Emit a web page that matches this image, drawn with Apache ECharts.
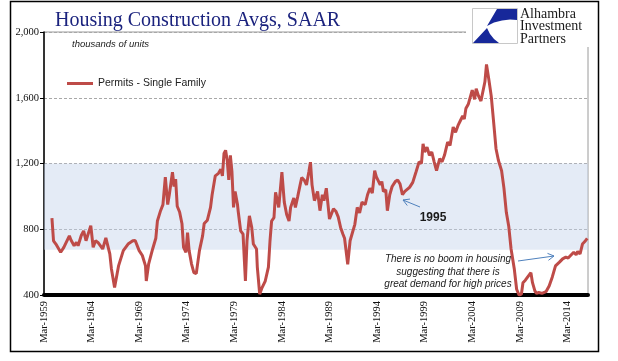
<!DOCTYPE html>
<html><head><meta charset="utf-8">
<script src="https://cdn.jsdelivr.net/npm/echarts/dist/echarts.min.js"></script>
<style>html,body{margin:0;padding:0;background:#fff}#c{width:618px;height:361px}</style>
</head><body><div id="c"></div>
<script>
// ---- data (thousands of units, SAAR) ----
const months = [
"1960-01","1960-03","1960-06","1960-12","1961-04","1961-07","1961-11","1962-01","1962-05","1962-08","1962-10",
"1963-02","1963-05","1963-08","1964-02","1964-05","1964-08","1964-11","1965-05","1965-09","1966-02","1966-04",
"1966-08","1966-10","1967-01","1967-07","1968-01","1968-07","1968-10","1969-03","1969-07","1969-11","1969-12",
"1970-03","1970-08","1970-12","1971-02","1971-06","1971-09","1971-12","1972-03","1972-05","1972-09","1972-11",
"1973-01","1973-03","1973-06","1973-09","1973-11","1974-02","1974-04","1974-06","1974-09","1974-12","1975-03",
"1975-07","1975-11","1976-01","1976-05","1976-09","1976-11","1977-03","1977-07","1977-10","1977-12","1978-02",
"1978-04","1978-06","1978-08","1978-10","1978-12","1979-02","1979-04","1979-07","1979-08","1979-11","1980-02",
"1980-05","1980-07","1980-10","1981-01","1981-03","1981-07","1981-08","1981-11","1982-02","1982-06","1982-10",
"1982-12","1983-02","1983-05","1983-07","1983-11","1984-03","1984-06","1984-09","1984-12","1985-02","1985-06",
"1985-08","1985-11","1986-02","1986-04","1986-07","1986-10","1987-01","1987-03","1987-05","1987-08","1987-12",
"1988-03","1988-06","1988-08","1988-11","1989-01","1989-03","1989-08","1989-11","1990-02","1990-05","1990-08",
"1990-10","1991-02","1991-05","1991-08","1991-11","1992-02","1992-05","1992-08","1992-12","1993-03","1993-06",
"1993-09","1993-12","1994-02","1994-07","1994-09","1994-11","1995-02","1995-04","1995-07","1995-10","1996-02",
"1996-05","1996-08","1996-11","1997-02","1997-08","1997-12","1998-04","1998-08","1998-11","1999-01","1999-03",
"1999-06","1999-09","1999-12","2000-03","2000-06","2000-10","2001-01","2001-04","2001-06","2001-08","2001-11",
"2002-03","2002-06","2002-09","2002-12","2003-03","2003-05","2003-07","2003-10","2003-12","2004-03","2004-06",
"2004-08","2004-11","2005-02","2005-04","2005-07","2005-09","2005-12","2006-03","2006-06","2006-09","2006-12",
"2007-04","2007-07","2007-10","2008-01","2008-04","2008-08","2008-11","2009-02","2009-05","2009-07","2009-10",
"2010-01","2010-05","2010-07","2010-10","2010-12","2011-03","2011-07","2011-12","2012-04","2012-08","2012-12",
"2013-05","2013-09","2014-01","2014-04","2014-07","2014-11","2015-02","2015-04","2015-07","2015-10","2016-01",
"2016-04"];
const permitsSingleFamily = [
868,730,710,660,690,720,760,735,700,720,700,
762,790,730,822,690,730,720,680,748,650,560,
445,445,577,670,710,730,732,670,640,577,485,
590,680,745,850,913,950,1117,950,1010,1147,1060,
1105,940,905,833,690,660,780,670,590,536,530,
670,760,835,855,933,1010,1125,1140,1165,1125,1261,
1280,1220,1100,1250,1150,933,1030,950,905,790,770,
485,730,882,810,710,680,570,405,445,485,570,
730,850,870,1025,933,1147,965,890,850,933,990,
933,1000,1070,1115,1100,1070,1150,1208,1070,974,1030,
913,1010,974,1050,1040,862,925,910,875,811,770,
745,587,730,780,830,933,900,965,950,1010,1050,
1020,1157,1120,1070,1090,1030,1040,913,1010,1060,1090,
1100,1075,1010,1030,1055,1085,1147,1210,1200,1320,1270,
1300,1250,1270,1210,1157,1230,1210,1250,1260,1330,1310,
1422,1390,1430,1460,1490,1470,1534,1560,1570,1646,1590,
1655,1610,1580,1570,1697,1803,1710,1610,1452,1290,1220,
1157,1050,903,820,680,560,435,400,405,475,490,
510,536,475,425,410,415,410,420,455,510,577,
600,620,630,625,640,660,645,665,650,710,725,
744];
const yTicks = [400, 800, 1200, 1600, 2000];
const band = [675, 1200];
const axisStart = "1959-03";
const axisEnd = "2016-05";
const tickStepMonths = 60;

function monthIndex(s){
  const a = s.split('-').map(Number), b = axisStart.split('-').map(Number);
  return (a[0]-b[0])*12 + (a[1]-b[1]);
}
const MON = ['Jan','Feb','Mar','Apr','May','Jun','Jul','Aug','Sep','Oct','Nov','Dec'];
function monthLabel(idx){
  const b = axisStart.split('-').map(Number);
  const t = b[0]*12 + (b[1]-1) + idx;
  return MON[t%12] + '-' + Math.floor(t/12);
}
const seriesData = months.map((m,i)=>[monthIndex(m), permitsSingleFamily[i]]);

const chart = echarts.init(document.getElementById('c'), null, {renderer:'canvas'});
const arrowColor = '#4F81BD';
function head(tip, tail, len){
  const dx = tip[0]-tail[0], dy = tip[1]-tail[1], L = Math.hypot(dx,dy);
  const ux = dx/L, uy = dy/L, c = Math.cos(Math.PI/6), s = Math.sin(Math.PI/6);
  const r1 = [c*ux - s*uy, s*ux + c*uy], r2 = [c*ux + s*uy, -s*ux + c*uy];
  return [[tip[0]-len*r1[0], tip[1]-len*r1[1]], tip, [tip[0]-len*r2[0], tip[1]-len*r2[1]]];
}
const a1tail=[420,207], a1tip=[403,200];
const a2tail=[518,261], a2tip=[554,256];

chart.setOption({
  animation:false,
  backgroundColor:'#fff',
  title:{text:'Housing Construction Avgs, SAAR', left:50, top:6,
    textStyle:{fontFamily:'Liberation Serif', fontSize:20, fontWeight:'normal', color:'#1B237E'}},
  legend:{data:['Permits - Single Family'], left:62, top:73, icon:'rect', itemWidth:26, itemHeight:3, itemGap:5,
    textStyle:{fontFamily:'Liberation Sans', fontSize:10.5, color:'#222'}},
  grid:{left:44, right:30, top:32, bottom:66, show:true, borderColor:'#9a9a9a', borderWidth:1, backgroundColor:'transparent'},
  xAxis:{type:'value', min:0, max:monthIndex(axisEnd), interval:tickStepMonths,
    axisLine:{onZero:false, lineStyle:{color:'#000', width:4}},
    axisTick:{show:false}, splitLine:{show:false},
    axisLabel:{rotate:90, margin:6, showMaxLabel:false, formatter:v=>monthLabel(v),
      fontFamily:'Liberation Serif', fontSize:10.5, color:'#111'}},
  yAxis:{type:'value', min:yTicks[0], max:yTicks[yTicks.length-1], interval:yTicks[1]-yTicks[0],
    axisLine:{show:true, lineStyle:{color:'#000', width:1.5}},
    axisTick:{show:true, length:4, lineStyle:{color:'#000'}},
    axisLabel:{margin:5, formatter:v=>v.toLocaleString('en-US'), fontFamily:'Liberation Serif', fontSize:10.5, color:'#111'},
    splitLine:{show:true, lineStyle:{color:'#a8a8a8', type:[3,2], width:1}}},
  series:[{name:'Permits - Single Family', type:'line', data:seriesData, showSymbol:false, smooth:false,
    lineStyle:{color:'#BE4B48', width:3}, itemStyle:{color:'#BE4B48'}, z:3,
    markArea:{silent:true, itemStyle:{color:'rgba(196,211,236,0.45)'},
      data:[[{yAxis:band[0]},{yAxis:band[1]}]]}}],
  graphic:[
    {type:'rect', z:100, shape:{x:10.5, y:1.5, width:588, height:350}, style:{fill:'none', stroke:'#000', lineWidth:1.5}},
    {type:'text', x:72, y:39, style:{text:'thousands of units', font:'italic 9.5px "Liberation Sans"', fill:'#222'}},
    // logo
    {type:'rect', shape:{x:466, y:3, width:128, height:44}, style:{fill:'#fff'}, z:50},
    {type:'rect', shape:{x:472.5, y:8.5, width:45, height:35}, style:{fill:'#fff', stroke:'#c8c8c8', lineWidth:1}, z:51},
    {type:'polygon', shape:{points:[[487,26],[497,9],[517,9],[517,20],[510,19.5],[502,20.5],[494,22.5]]}, style:{fill:'#17289A'}, z:52},
    {type:'polygon', shape:{points:[[473,43],[499,43],[494,39],[490,34],[487,28]]}, style:{fill:'#17289A'}, z:52},
    {type:'text', x:520, y:8, z:52, style:{text:'Alhambra\nInvestment\nPartners', font:'14px "Liberation Serif"', lineHeight:12.5, fill:'#1a1a1a'}},
    // annotations
    {type:'text', x:433, y:218, z:60, style:{text:'1995', font:'bold 12px "Liberation Sans"', fill:'#1a1a1a', align:'center', verticalAlign:'middle'}},
    {type:'line', z:60, shape:{x1:a1tail[0], y1:a1tail[1], x2:a1tip[0], y2:a1tip[1]}, style:{stroke:arrowColor, lineWidth:1}},
    {type:'polyline', z:60, shape:{points:head(a1tip,a1tail,7)}, style:{stroke:arrowColor, lineWidth:1, fill:'none'}},
    {type:'text', x:448, y:272, z:60, style:{text:'There is no boom in housing\nsuggesting that there is\ngreat demand for high prices',
      font:'italic 10px "Liberation Sans"', lineHeight:12.7, fill:'#1a1a1a', align:'center', verticalAlign:'middle'}},
    {type:'line', z:60, shape:{x1:a2tail[0], y1:a2tail[1], x2:a2tip[0], y2:a2tip[1]}, style:{stroke:arrowColor, lineWidth:1}},
    {type:'polyline', z:60, shape:{points:head(a2tip,a2tail,7)}, style:{stroke:arrowColor, lineWidth:1, fill:'none'}}
  ]
});
</script></body></html>
